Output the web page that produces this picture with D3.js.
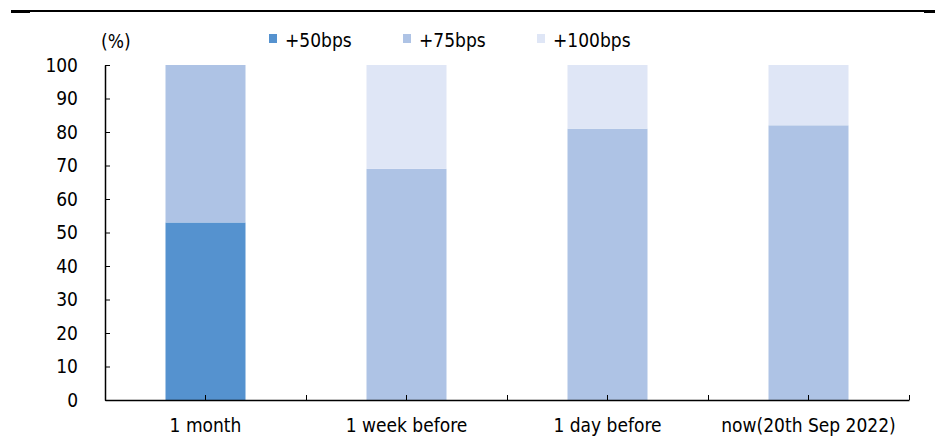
<!DOCTYPE html>
<html><head><meta charset="utf-8">
<script src="https://cdn.jsdelivr.net/npm/d3@7"></script>
<style>body{margin:0;background:#fff}svg{display:block}text{font-family:"DejaVu Sans Condensed","DejaVu Sans",sans-serif;font-stretch:condensed;fill:#000}</style>
</head><body><svg id="c" width="935" height="437"></svg>
<script>
const categories = ["1 month", "1 week before", "1 day before", "now(20th Sep 2022)"];
const seriesNames = ["+50bps", "+75bps", "+100bps"];
const bps50 = [53, 0, 0, 0];
const bps75 = [47, 69, 81, 82];
const bps100 = [0, 31, 19, 18];
const yTicks = [0, 10, 20, 30, 40, 50, 60, 70, 80, 90, 100];
const colors = ["#5592cf", "#aec3e5", "#dfe6f6"];

const svg = d3.select("#c");
const L = 105, R = 909, T = 65, B = 400;
const fs = 19;
const ff = '"DejaVu Sans Condensed","DejaVu Sans",sans-serif';

// top rule
svg.append("rect").attr("x", 11).attr("y", 10).attr("width", 924).attr("height", 2).attr("fill", "#000");
svg.append("rect").attr("x", 11).attr("y", 10).attr("width", 19).attr("height", 3).attr("fill", "#000");
svg.append("rect").attr("x", 924).attr("y", 10).attr("width", 11).attr("height", 3).attr("fill", "#000");

const x = d3.scaleBand().domain(categories).range([L, R]).paddingInner(0.602).paddingOuter(0.301);
const y = d3.scaleLinear().domain([0, 100]).range([B, T]);

const rows = categories.map((c, i) => ({cat: c, "+50bps": bps50[i], "+75bps": bps75[i], "+100bps": bps100[i]}));
const stack = d3.stack().keys(seriesNames)(rows);

svg.append("g").selectAll("g").data(stack).join("g")
  .attr("fill", (d, i) => colors[i])
  .selectAll("rect").data(d => d).join("rect")
  .attr("x", d => x(d.data.cat))
  .attr("width", x.bandwidth())
  .attr("y", d => y(d[1]))
  .attr("height", d => y(d[0]) - y(d[1]));

function styleText(sel) {
  sel.style("font-size", fs + "px").style("font-family", ff).style("font-stretch", "condensed");
}

// y axis
const ya = svg.append("g").attr("transform", `translate(${L},0)`)
  .call(d3.axisLeft(y).tickValues(yTicks).tickSizeInner(-5).tickSizeOuter(0).tickPadding(27));
ya.select(".domain").attr("stroke", "#000").attr("stroke-width", 1.5);
ya.selectAll(".tick line").attr("stroke", "#000");
styleText(ya.selectAll("text"));

// x axis (category labels + center ticks)
const xa = svg.append("g").attr("transform", `translate(0,${B})`)
  .call(d3.axisBottom(x).tickSizeInner(-5).tickSizeOuter(0).tickPadding(19));
xa.select(".domain").attr("stroke", "#000").attr("stroke-width", 1.5);
xa.selectAll(".tick line").attr("stroke", "#000");
styleText(xa.selectAll("text"));

// boundary ticks
const xb = d3.scaleLinear().domain([0, categories.length]).range([L, R]);
const xb2 = svg.append("g").attr("transform", `translate(0,${B})`)
  .call(d3.axisBottom(xb).tickValues(d3.range(1, categories.length + 1)).tickSizeInner(-5).tickSizeOuter(0).tickFormat(""));
xb2.select(".domain").remove();
xb2.selectAll(".tick line").attr("stroke", "#000");

// unit label
styleText(svg.append("text").attr("x", 101).attr("y", 48).text("(%)"));

// legend
const lx = [269, 403, 537];
const lg = svg.append("g").selectAll("g").data(seriesNames).join("g")
  .attr("transform", (d, i) => `translate(${lx[i]},34)`);
lg.append("rect").attr("width", 8).attr("height", 9).attr("fill", (d, i) => colors[i]);
styleText(lg.append("text").attr("x", 16).attr("y", 12.5).text(d => d));
</script></body></html>
